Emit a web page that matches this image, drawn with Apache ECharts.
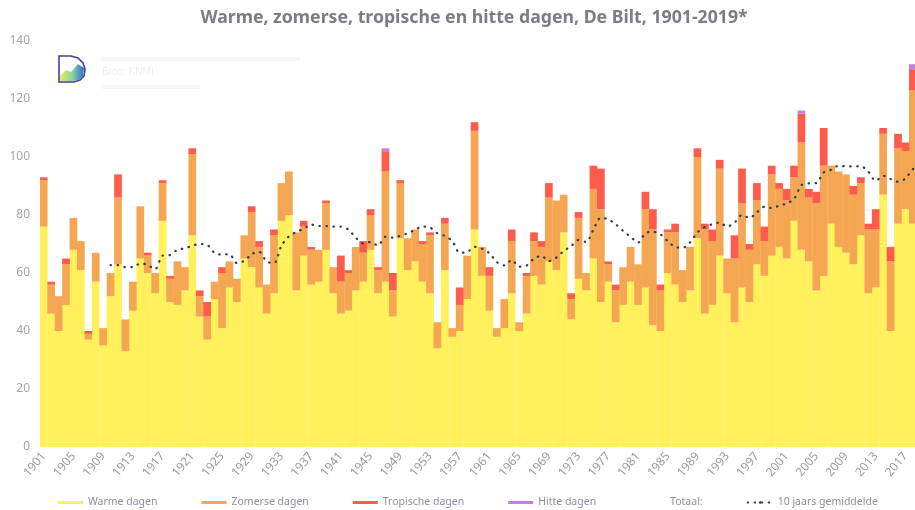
<!DOCTYPE html>
<html>
<head>
<meta charset="utf-8">
<style>
html,body{margin:0;padding:0;background:#fff;}
#chart{width:915px;height:510px;}
</style>
<script src="https://cdn.jsdelivr.net/npm/echarts@6/dist/echarts.min.js"></script>
</head>
<body>
<div id="chart"></div>
<script>
var jaren = [];
for(var j = 1901 ; j <= 2019 ; j ++){
    jaren.push(String(j));
}

var warmeDagen = [76,46,40,49,68,61,37,57,35,52,63,33,47,65,60,53,78,50,49,54,73,45,37,51,41,55,50,65,62,55,46,53,78,80,54,66,
    56,57,68,53,46,47,54,57,68,53,57,45,72,61,64,57,53,34,61,38,40,51,75,59,47,38,41,53,40,46,59,56,64,61,74,44,58,54,65,50,57,
    43,49,57,49,55,42,40,60,56,50,54,72,46,49,66,53,43,55,50,63,59,66,69,65,78,68,64,54,59,77,69,67,63,73,53,55,87,40,77,82,77,70];
var zomerseDagen = [16,10,12,14,11,10,2,10,6,8,23,11,10,18,6,7,13,8,15,8,28,7,8,6,19,9,8,8,19,14,10,20,13,15,20,10,
    12,11,16,9,11,13,15,10,12,8,38,9,19,11,11,13,20,9,16,3,9,15,34,10,12,3,10,18,3,13,12,13,22,24,13,7,21,6,24,32,6,
    11,13,12,14,27,33,14,14,18,11,15,28,29,22,30,12,22,29,18,22,12,28,20,20,15,37,22,30,38,20,26,27,24,18,22,20,21,24,26,20,46,26];
var tropischeDagen = [1,1,0,2,0,0,1,0,0,0,8,0,0,0,1,0,1,1,0,0,2,2,5,0,2,0,0,0,2,2,0,2,0,0,0,2,
    1,0,1,0,9,1,0,4,2,1,7,6,1,0,0,1,1,0,2,0,6,0,3,0,3,0,0,4,0,1,3,2,5,0,0,2,2,0,8,14,1,
    2,0,0,0,6,7,2,1,3,0,0,3,2,4,3,0,8,12,2,6,5,3,2,4,4,10,3,4,13,0,0,0,3,2,2,7,2,5,5,3,7,8];
var hitteDagen = [];
for(var h = 0 ; h < jaren.length ; h ++){
    hitteDagen.push(0);
}
hitteDagen[46] = 1;
hitteDagen[102] = 1;
hitteDagen[117] = 2;
hitteDagen[118] = 2;
var gemiddelde = [null,null,null,null,null,null,null,null,null,
    62.7,62.7,62,62,63.3,62.8,61.3,66,66.2,68,68.5,69.4,70,69.7,66.9,66.4,66.5,63.4,64.2,66.5,67.3,64,63.4,69.4,72.6,74.2,75.2,
    76.7,76.2,76.2,76,76,75,72.2,70.2,70.7,69.5,72.5,72.2,72.8,73.7,74.9,76,75.7,73.7,72.8,71,67,67.2,69,68.4,66.8,63.8,62.6,64.5,62.2,62.6,65,65.9,64.1,65.3,67.6,69.3,71.4,70.7,75,79.1,78.5,
    76.8,74.5,72.5,70.5,73.7,74.2,73.4,71,69,68.7,70.5,74,75.9,76.8,77.4,76,77.4,80,79,80.9,82.8,82.4,83.2,84,85.5,90.3,90.9,91,94.7,95.6,97,96.8,96.8,96.8,95,91.8,93.5,92.4,91.5,92.6,95.8,97];

var oChart = echarts.init(document.getElementById('chart'));

function barSerie(naam, waarden, kleur){
    return {
        name: naam,
        type: 'bar',
        stack: 'dagen',
        barCategoryGap: '-4%',
        data: waarden,
        itemStyle: {color: kleur}
    };
}

// het logo linksboven en de vage regels ernaast
var logo = [
    {type: 'polygon', z: 10, shape: {points: [[59,56],[71,56],[78,58],[83,63],[85,69],[84,76],[80,80],[74,82],[59,82]]},
        style: {fill: '#fff', stroke: '#4a3aa0', lineWidth: 1.6}},
    {type: 'polygon', z: 11, shape: {points: [[60,81],[60,76],[66,70],[71,72],[78,64],[84,68],[83,76],[79,80],[73,81]]},
        style: {fill: new echarts.graphic.LinearGradient(0, 0, 1, 0, [
            {offset: 0, color: '#e6ec5a'}, {offset: 0.5, color: '#8fd6a0'}, {offset: 1, color: '#2a6fd0'}
        ])}},
    {type: 'rect', z: 10, shape: {x: 102, y: 57, width: 198, height: 4}, style: {fill: '#f6f6f6'}},
    {type: 'text', z: 10, x: 102, y: 67, style: {text: 'Bron: KNMI', fill: '#eeeeee', fontSize: 10}},
    {type: 'rect', z: 10, shape: {x: 102, y: 85, width: 98, height: 4}, style: {fill: '#f6f6f6'}}
];

var option = {
    animation: false,
    backgroundColor: '#fff',
    textStyle: {fontFamily: 'Noto Sans'},
    title: {
        text: 'Warme, zomerse, tropische en hitte dagen, De Bilt, 1901-2019*',
        left: 469,
        top: 4,
        textAlign: 'center',
        textStyle: {color: '#7c7c88', fontSize: 17.7, fontWeight: 'bold', fontFamily: 'Noto Sans'}
    },
    legend: {
        left: 58,
        top: 497,
        padding: 0,
        itemWidth: 25,
        itemHeight: 3,
        itemGap: 44,
        textStyle: {color: '#8a8fa3', fontSize: 10.5},
        data: [
            {name: 'Warme dagen', icon: 'rect'},
            {name: 'Zomerse dagen', icon: 'rect'},
            {name: 'Tropische dagen', icon: 'rect'},
            {name: 'Hitte dagen', icon: 'rect'},
            {name: 'Totaal:', icon: 'none'},
            {name: '10 jaars gemiddelde'}
        ]
    },
    grid: {left: 40, top: 41, width: 884, height: 406, outerBoundsMode: 'none'},
    xAxis: {
        type: 'category',
        data: jaren,
        axisLine: {show: false},
        axisTick: {show: false},
        axisLabel: {interval: 3, rotate: 50, color: '#9a9a9a', fontSize: 12, margin: 7, hideOverlap: false}
    },
    yAxis: {
        type: 'value',
        min: 0,
        max: 140,
        interval: 20,
        axisLine: {show: false},
        axisTick: {show: false},
        splitLine: {show: false},
        axisLabel: {color: '#a5a5a5', fontSize: 12, margin: 10}
    },
    series: [
        barSerie('Warme dagen', warmeDagen, '#fff05c'),
        barSerie('Zomerse dagen', zomerseDagen, '#f5a652'),
        barSerie('Tropische dagen', tropischeDagen, '#fd5c4c'),
        barSerie('Hitte dagen', hitteDagen, '#c57fd8'),
        {name: 'Totaal:', type: 'line', data: [], itemStyle: {color: 'transparent'}},
        {
            name: '10 jaars gemiddelde',
            type: 'line',
            data: gemiddelde,
            smooth: 0.3,
            symbol: 'none',
            clip: false,
            itemStyle: {color: '#2f3a4c'},
            lineStyle: {color: '#2f3a4c', width: 2.2, type: [0.5, 6.5], cap: 'round'},
            z: 5
        }
    ],
    graphic: logo
};
oChart.setOption(option);
</script>
</body>
</html>
